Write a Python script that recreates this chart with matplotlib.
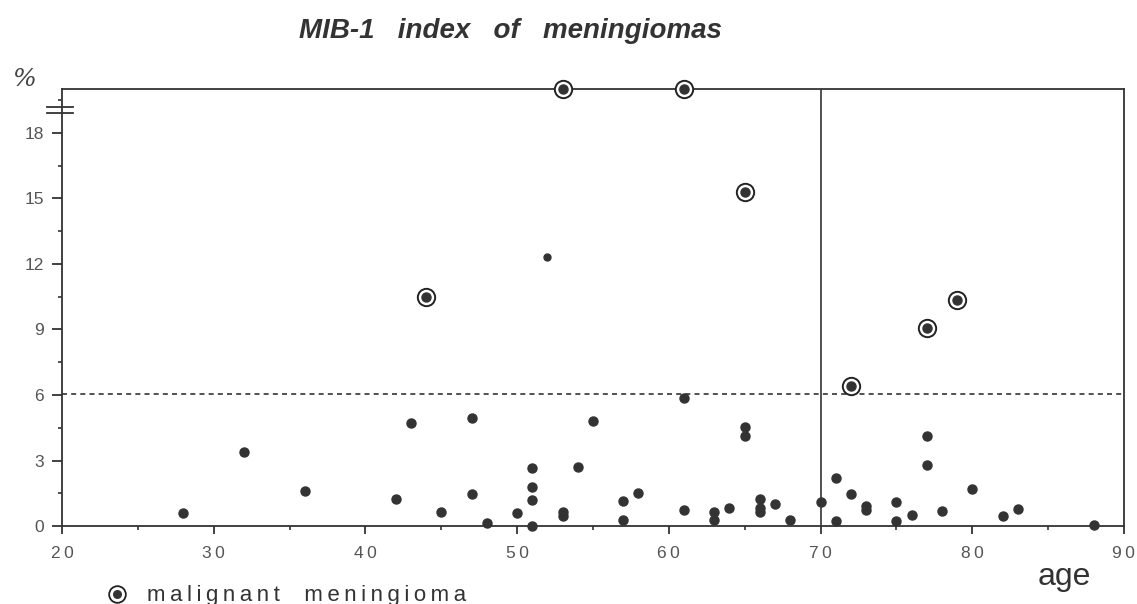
import matplotlib
matplotlib.use('Agg')
import matplotlib.pyplot as plt
import matplotlib.transforms as mtransforms

# benign meningiomas: age, MIB-1 index (%)
benign_age = [28, 32, 36, 42, 43, 45, 47, 47, 48, 50, 51, 51, 51, 51, 53, 53,
              54, 55, 57, 57, 58, 61, 61, 63, 63, 64, 65, 65, 66, 66, 66, 67,
              68, 70, 71, 71, 72, 73, 73, 75, 75, 76, 77, 77, 78, 80, 82, 83, 88]
benign_mib = [0.6, 3.4, 1.6, 1.25, 4.7, 0.65, 4.95, 1.45, 0.15, 0.6, 2.65, 1.8,
              1.2, 0.0, 0.65, 0.45, 2.7, 4.8, 1.15, 0.3, 1.5, 5.85, 0.75, 0.65,
              0.3, 0.85, 4.55, 4.1, 1.25, 0.85, 0.65, 1.0, 0.3, 1.1, 2.2, 0.25,
              1.45, 0.9, 0.75, 1.1, 0.25, 0.5, 4.1, 2.8, 0.7, 1.7, 0.45, 0.8, 0.05]

# the one small dot
small_age = [52]
small_mib = [12.3]

# malignant meningiomas (20 = off scale, above the break)
malig_age = [44, 53, 61, 65, 72, 77, 79]
malig_mib = [10.5, 20, 20, 15.3, 6.4, 9.05, 10.35]

x_ticks = [20, 30, 40, 50, 60, 70, 80, 90]
y_ticks = [0, 3, 6, 9, 12, 15, 18]

cutoff = 6.05
age_split = 70

dot = '#333333'
grey = '#555555'
thin = '\u2009'

fig = plt.figure(figsize=(11.37, 6.04), dpi=100)
ax = fig.add_axes([0.0545, 0.129, 0.934, 0.7236])

ax.plot(benign_age, benign_mib, 'o', ms=6.5, color=dot, mec=dot, clip_on=False, zorder=3)
ax.plot(small_age, small_mib, 'o', ms=5, color=dot, clip_on=False, zorder=3)
ax.plot(malig_age, malig_mib, 'o', ms=12.5, mfc='white', mec='#222222', mew=1.4,
        clip_on=False, zorder=4)
ax.plot(malig_age, malig_mib, 'o', ms=6.5, color=dot, clip_on=False, zorder=5)

ax.axhline(cutoff, color='#333333', lw=1.2, ls=(0, (3, 2.5)), zorder=1)
ax.axvline(age_split, color='#333333', lw=1.2, zorder=1)

ax.set_xlim(20, 90)
ax.set_ylim(0, 20)
ax.set_xticks(x_ticks)
ax.set_xticks([25, 35, 45, 55, 65, 75, 85], minor=True)
ax.set_xticklabels([thin.join(str(v)) for v in x_ticks])
ax.set_yticks(y_ticks)
ax.set_yticks([1.5, 4.5, 7.5, 10.5, 13.5, 16.5, 19.5], minor=True)

for s in ax.spines.values():
    s.set_color('#333333')
    s.set_linewidth(1.3)
ax.tick_params(which='major', direction='out', width=1.3, color='#333333',
               labelsize=12.5, labelcolor=grey)
ax.tick_params(axis='x', which='major', length=5.5, pad=9)
ax.tick_params(axis='y', which='major', length=7, pad=6)
ax.tick_params(which='minor', direction='out', length=3, width=1.2, color='#333333')
for lab in ax.get_xticklabels() + ax.get_yticklabels():
    lab.set_family('Liberation Sans')

# axis break marks on the left spine
tr = mtransforms.blended_transform_factory(ax.transAxes, ax.transData)
for yb in (19.2, 18.9):
    ax.plot([-0.014, 0.01], [yb, yb], color='#333333', lw=1.3, transform=tr, clip_on=False)

fig.text(0.449, 0.948, 'MIB-1   index   of   meningiomas', fontsize=20, style='italic',
         fontweight='bold', color='#333333', ha='center', va='center',
         family='Liberation Sans')
fig.text(0.021, 0.869, '%', fontsize=18, style='italic', color='#444444',
         ha='center', va='center', family='DejaVu Serif')
fig.text(0.936, 0.031, 'age', fontsize=23, color='#333333', ha='center',
         va='baseline', family='Liberation Sans')

# legend symbol and text
ax.plot([0.103], [0.016], 'o', ms=12, mfc='white', mec='#222222', mew=1.3,
        transform=fig.transFigure, clip_on=False)
ax.plot([0.103], [0.016], 'o', ms=5.5, color=dot, transform=fig.transFigure, clip_on=False)
fig.text(0.129, 0.005, thin.join('malignant') + '    ' + thin.join('meningioma'),
         fontsize=16, color='#333333', ha='left', va='baseline', family='Liberation Sans')

fig.savefig('out.png', dpi=100)
